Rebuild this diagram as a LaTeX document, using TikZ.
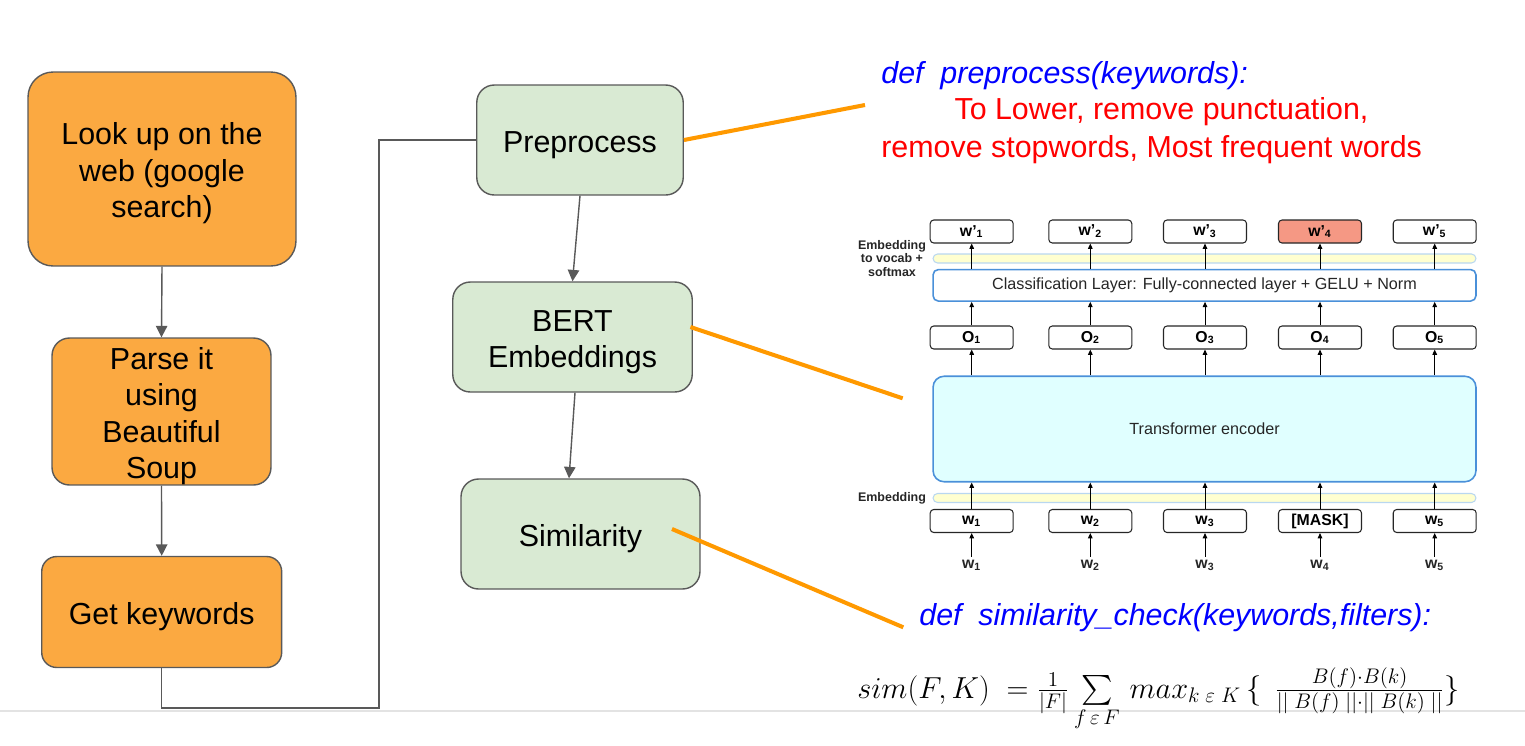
\documentclass[tikz,border=0pt]{standalone}
\usepackage{amsmath, amssymb}
\usepackage{fontspec}
\setmainfont{Liberation Sans}
\usepackage{xcolor}
\usepackage{tikz}
\usetikzlibrary{arrows.meta, positioning, calc}
\definecolor{StepOrange}{RGB}{251, 169, 65}
\definecolor{StepGreen}{RGB}{217, 234, 211}
\definecolor{EdgeGray}{RGB}{89, 89, 89}
\definecolor{CallOrange}{RGB}{255, 153, 0}
\definecolor{BertBlue}{RGB}{74, 144, 217}
\definecolor{BertCyan}{RGB}{224, 255, 255}
\definecolor{BertYellow}{RGB}{255, 255, 208}
\definecolor{BarBorder}{RGB}{185, 215, 240}
\definecolor{MaskRed}{RGB}{245, 152, 132}
\newcommand{\toprule}{\rule{0pt}{17.6pt}}

\begin{document}
\begin{tikzpicture}[x=0.02cm, y=-0.02cm,
    bigtext/.style={font=\fontsize{17.3}{20.8}\selectfont},
    stepbox/.style={draw=EdgeGray, line width=0.8pt, rounded corners=0.35cm, align=center, inner sep=0pt, bigtext},
    flow/.style={draw=EdgeGray, line width=0.8pt, -{Triangle[length=6.5pt, width=6.5pt]}},
    link/.style={draw=EdgeGray, line width=0.8pt},
    callout/.style={draw=CallOrange, line width=2.3pt},
    tokbox/.style={draw=black!85, line width=0.6pt, fill=white, rounded corners=2pt, minimum width=1.66cm, minimum height=0.46cm, inner sep=0pt, font=\fontsize{9}{10}\selectfont\bfseries},
    bar/.style={draw=BarBorder, line width=0.6pt, fill=BertYellow, minimum width=10.86cm, minimum height=0.18cm, rounded corners=0.09cm, inner sep=0pt},
    layer/.style={draw=BertBlue, line width=0.9pt, minimum width=10.86cm, inner sep=0pt, font=\fontsize{9.2}{11}\selectfont, text=black!85},
    barrow/.style={draw=black, line width=0.55pt, -{Triangle[length=3pt, width=2.6pt]}},
    sidelabel/.style={align=center, inner sep=0pt, font=\fontsize{7.1}{7.9}\selectfont\bfseries, text=black!85}]
    \useasboundingbox (0,0) rectangle (1525,745);

    % 页面底边
    \draw[gray!22, line width=1.5pt] (0,711) -- (1525,711);

    % 左列：抓取网页
    \node[stepbox, fill=StepOrange, minimum width=5.36cm, minimum height=3.88cm, rounded corners=0.5cm] (look) at (162,169) {\toprule Look up on the\\web (google\\search)};
    \node[stepbox, fill=StepOrange, minimum width=4.38cm, minimum height=2.94cm] (parse) at (161.5,411.5) {\toprule Parse it\\using\\Beautiful\\Soup};
    \node[stepbox, fill=StepOrange, minimum width=4.8cm, minimum height=2.22cm, rounded corners=0.3cm] (getkw) at (161.7,612) {\toprule Get keywords};
    \draw[flow] (look.south) -- (parse.north);
    \draw[flow] (parse.south) -- (getkw.north);

    % 中列：处理流程
    \node[stepbox, fill=StepGreen, minimum width=4.13cm, minimum height=2.2cm] (prep) at (580,140) {\toprule Preprocess};
    \node[stepbox, fill=StepGreen, minimum width=4.79cm, minimum height=2.2cm] (bert) at (572.5,337) {\toprule BERT\\Embeddings};
    \node[stepbox, fill=StepGreen, minimum width=4.78cm, minimum height=2.2cm] (simil) at (580.5,534) {\toprule Similarity};
    \draw[flow] (prep.south) -- (bert.north);
    \draw[flow] ([xshift=0.05cm]bert.south) -- ([xshift=-0.23cm]simil.north);
    \coordinate (turn) at (379,708);
    \draw[link] (getkw.south) |- (turn) |- (prep.west);

    % 说明文字
    \node[anchor=west, inner sep=0pt, bigtext, text=blue] (prepdef) at (881,76) {\itshape def~~preprocess(keywords):};
    \node[inner sep=0pt, bigtext, text=red] (prepstep1) at (1161.5,112) {To Lower, remove punctuation,};
    \node[anchor=west, inner sep=0pt, bigtext, text=red] (prepstep2) at (881,150) {remove stopwords, Most frequent words};
    \node[anchor=west, inner sep=0pt, bigtext, text=blue] (simdef) at (919,618) {\itshape def~~similarity\_check(keywords,filters):};
    \node[anchor=base west, inner sep=0pt, font=\fontsize{17}{20}\selectfont] (simform) at (857,698)
        {$sim(F,K)\;=\frac{1}{|F|}\sum\limits_{f\,\varepsilon\,F}\,max_{k\;\varepsilon\;K}\,\{\;\,\frac{B(f)\cdot B(k)}{||\;B(f)\;||\cdot||\;B(k)\;||}\}$};

    % BERT 结构图
    \node[bar] (bartop) at (1204.5,258.5) {};
    \node[bar] (barbot) at (1204.5,498) {};
    \node[layer, fill=white, rounded corners=3pt, minimum height=0.63cm] (cls) at (1204.5,285.3) {Classification Layer: Fully-connected layer + GELU + Norm};
    \node[layer, fill=BertCyan, rounded corners=0.22cm, minimum height=2.11cm] (trans) at (1204.5,429) {Transformer encoder};
    \node[sidelabel] (embtop) at (892,258.5) {Embedding\\to vocab +\\softmax};
    \node[sidelabel] (embbot) at (892,498) {Embedding};

    \foreach \i/\x/\fc in {1/971.7/white, 2/1090.3/white, 3/1205/white, 4/1320/MaskRed, 5/1434.7/white} {
        \node[tokbox, fill=\fc] (wout\i) at (\x,231.5) {w’\textsubscript{\i}};
        \node[tokbox] (o\i) at (\x,337.5) {O\textsubscript{\i}};
        \node[tokbox] (win\i) at (\x,521) {\ifnum\i=4 [MASK]\else w\textsubscript{\i}\fi};
        \node[inner sep=1.5pt, font=\fontsize{9}{10}\selectfont\bfseries, text=black!85] (tok\i) at (\x,565) {w\textsubscript{\i}};
        \draw[barrow] (cls.north -| wout\i.south) -- (wout\i.south);
        \draw[barrow] (o\i.north) -- (cls.south -| o\i.north);
        \draw[barrow] (trans.north -| o\i.south) -- (o\i.south);
        \draw[barrow] (win\i.north) -- (trans.south -| win\i.north);
        \draw[barrow] (tok\i.north) -- (win\i.south);
    }

    % 橙色引线
    \coordinate (prepend) at (865,105);
    \coordinate (bertend) at (902.7,398.3);
    \coordinate (simend) at (903.3,627.3);
    \draw[callout] (prep.east) -- (prepend);
    \draw[callout] ([xshift=-0.05cm, yshift=0.2cm]bert.east) -- (bertend);
    \draw[callout] ([xshift=1.83cm, yshift=0.1cm]simil.center) -- (simend);
\end{tikzpicture}
\end{document}
